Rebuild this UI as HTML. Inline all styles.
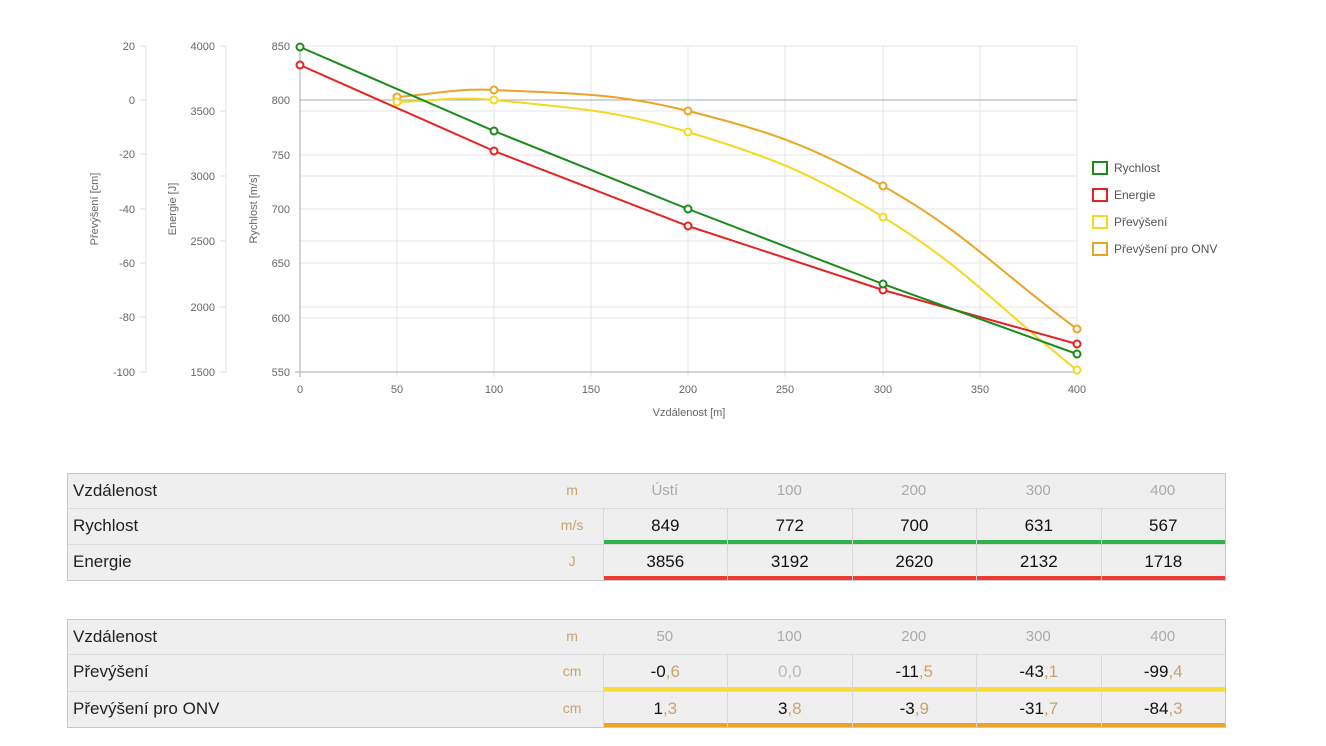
<!DOCTYPE html>
<html><head><meta charset="utf-8"><style>
body{margin:0;width:1326px;height:746px;background:#fff;font-family:"Liberation Sans",sans-serif;position:relative;overflow:hidden}
svg{position:absolute;left:0;top:0}
.tb{position:absolute;left:67px;width:1159px;border:1px solid #c8c8c8;background:#efefef;box-sizing:border-box}
.row{position:relative;display:flex;border-top:1px solid #dcdcdc;box-sizing:border-box}
.row:first-child{border-top:none}
.lab{width:474px;padding-left:5px;box-sizing:border-box;font-size:17px;color:#222;line-height:33px}
.unit{width:61px;text-align:center;font-size:14px;color:#c9a46a;line-height:33px}
.c{width:124.6px;text-align:center;font-size:17px;color:#111;line-height:33px;border-left:1px solid #d8d8d8;box-sizing:border-box;position:relative}
.h .c{color:#aaa;font-size:15px;border-left:none}
.c i{font-style:normal;color:#c9a46a}
.bar{position:absolute;left:0;right:0;bottom:0;height:4px}
</style></head><body>
<svg width="1326" height="746" font-family="Liberation Sans, sans-serif" font-size="11" fill="#666">
<g stroke="#e6e6e6" stroke-width="1">
<line x1="300" x2="1077" y1="46" y2="46"/><line x1="300" x2="1077" y1="155" y2="155"/><line x1="300" x2="1077" y1="209" y2="209"/><line x1="300" x2="1077" y1="263" y2="263"/><line x1="300" x2="1077" y1="318" y2="318"/>
<line x1="300" x2="1077" y1="111" y2="111"/><line x1="300" x2="1077" y1="176" y2="176"/><line x1="300" x2="1077" y1="241" y2="241"/><line x1="300" x2="1077" y1="307" y2="307"/>
<line x1="397" x2="397" y1="46" y2="377"/><line x1="494" x2="494" y1="46" y2="377"/><line x1="591" x2="591" y1="46" y2="377"/><line x1="688" x2="688" y1="46" y2="377"/><line x1="785" x2="785" y1="46" y2="377"/><line x1="883" x2="883" y1="46" y2="377"/><line x1="980" x2="980" y1="46" y2="377"/><line x1="1077" x2="1077" y1="46" y2="377"/>
<line x1="146" x2="146" y1="46" y2="372"/><line x1="226" x2="226" y1="46" y2="372"/>
</g>
<line x1="300" x2="1077" y1="100" y2="100" stroke="#aaa"/>
<line x1="295" x2="1077" y1="372" y2="372" stroke="#aaa"/>
<line x1="300" x2="300" y1="46" y2="377" stroke="#aaa"/>
<g text-anchor="end">
<text x="135" y="50">20</text><text x="135" y="104">0</text><text x="135" y="158">-20</text><text x="135" y="213">-40</text><text x="135" y="267">-60</text><text x="135" y="321">-80</text><text x="135" y="376">-100</text>
<text x="215" y="50">4000</text><text x="215" y="115">3500</text><text x="215" y="180">3000</text><text x="215" y="245">2500</text><text x="215" y="311">2000</text><text x="215" y="376">1500</text>
<text x="290" y="50">850</text><text x="290" y="104">800</text><text x="290" y="159">750</text><text x="290" y="213">700</text><text x="290" y="267">650</text><text x="290" y="322">600</text><text x="290" y="376">550</text>
</g>
<g stroke="#ddd"><line x1="140" x2="146" y1="46" y2="46"/><line x1="140" x2="146" y1="100" y2="100"/><line x1="140" x2="146" y1="154" y2="154"/><line x1="140" x2="146" y1="209" y2="209"/><line x1="140" x2="146" y1="263" y2="263"/><line x1="140" x2="146" y1="317" y2="317"/><line x1="140" x2="146" y1="372" y2="372"/>
<line x1="220" x2="226" y1="46" y2="46"/><line x1="220" x2="226" y1="111" y2="111"/><line x1="220" x2="226" y1="176" y2="176"/><line x1="220" x2="226" y1="241" y2="241"/><line x1="220" x2="226" y1="307" y2="307"/><line x1="220" x2="226" y1="372" y2="372"/></g>
<g text-anchor="middle">
<text x="300" y="393">0</text><text x="397" y="393">50</text><text x="494" y="393">100</text><text x="591" y="393">150</text><text x="688" y="393">200</text><text x="785" y="393">250</text><text x="883" y="393">300</text><text x="980" y="393">350</text><text x="1077" y="393">400</text>
<text x="689" y="416">Vzdálenost [m]</text>
<text transform="translate(98,209) rotate(-90)">Převýšení [cm]</text>
<text transform="translate(176,209) rotate(-90)">Energie [J]</text>
<text transform="translate(257,209) rotate(-90)">Rychlost [m/s]</text>
</g>
<path id="pO" fill="none" stroke="#eaa526" stroke-width="2"/>
<path id="pY" fill="none" stroke="#f5d820" stroke-width="2"/>
<polyline points="300,65 494,151 688,226 883,290 1077,344" fill="none" stroke="#e62222" stroke-width="2"/>
<polyline points="300,47 494,131 688,209 883,284 1077,354" fill="none" stroke="#1a8a1a" stroke-width="2"/>
<g id="pts" stroke-width="2" fill="#fff"></g>
<g font-size="12" fill="#555">
<rect x="1093" y="162" width="14" height="12" fill="#fff" stroke="#1a8a1a" stroke-width="2"/><text x="1114" y="172">Rychlost</text>
<rect x="1093" y="189" width="14" height="12" fill="#fff" stroke="#e62222" stroke-width="2"/><text x="1114" y="199">Energie</text>
<rect x="1093" y="216" width="14" height="12" fill="#fff" stroke="#f5d820" stroke-width="2"/><text x="1114" y="226">Převýšení</text>
<rect x="1093" y="243" width="14" height="12" fill="#fff" stroke="#eaa526" stroke-width="2"/><text x="1114" y="253">Převýšení pro ONV</text>
</g>
</svg>
<script>
function spline(P,t){var d='M'+P[0][0]+','+P[0][1];var cps=[];
for(var i=0;i<P.length;i++){var p0=P[i-1]||P[i],p1=P[i],p2=P[i+1]||P[i];
var d01=Math.hypot(p1[0]-p0[0],p1[1]-p0[1]),d12=Math.hypot(p2[0]-p1[0],p2[1]-p1[1]);var s=d01+d12||1;
var fa=t*d01/s,fb=t*d12/s;cps.push([[p1[0]-fa*(p2[0]-p0[0]),p1[1]-fa*(p2[1]-p0[1])],[p1[0]+fb*(p2[0]-p0[0]),p1[1]+fb*(p2[1]-p0[1])]]);}
for(var i=1;i<P.length;i++){d+=' C'+cps[i-1][1]+' '+cps[i][0]+' '+P[i];}return d;}
var Y=[[397,102],[494,100],[688,132],[883,217],[1077,370]],O=[[397,97],[494,90],[688,111],[883,186],[1077,329]];
document.getElementById('pY').setAttribute('d',spline(Y,0.4));document.getElementById('pO').setAttribute('d',spline(O,0.4));
var g=document.getElementById('pts'),h='';
function add(a,c){a.forEach(function(p){h+='<circle cx="'+p[0]+'" cy="'+p[1]+'" r="3.5" stroke="'+c+'"/>';});}
add(O,'#eaa526');add(Y,'#f5d820');add([[300,65],[494,151],[688,226],[883,290],[1077,344]],'#e62222');add([[300,47],[494,131],[688,209],[883,284],[1077,354]],'#1a8a1a');
g.innerHTML=h;
</script>
<div class="tb" style="top:473px;height:108px">
<div class="row h" style="height:34px"><div class="lab">Vzdálenost</div><div class="unit">m</div><div class="c">Ústí</div><div class="c">100</div><div class="c">200</div><div class="c">300</div><div class="c">400</div></div>
<div class="row" style="height:36px"><div class="lab">Rychlost</div><div class="unit">m/s</div><div class="c">849<div class="bar" style="background:#2db34a"></div></div><div class="c">772<div class="bar" style="background:#2db34a"></div></div><div class="c">700<div class="bar" style="background:#2db34a"></div></div><div class="c">631<div class="bar" style="background:#2db34a"></div></div><div class="c">567<div class="bar" style="background:#2db34a"></div></div></div>
<div class="row" style="height:36px"><div class="lab">Energie</div><div class="unit">J</div><div class="c">3856<div class="bar" style="background:#ee3b36"></div></div><div class="c">3192<div class="bar" style="background:#ee3b36"></div></div><div class="c">2620<div class="bar" style="background:#ee3b36"></div></div><div class="c">2132<div class="bar" style="background:#ee3b36"></div></div><div class="c">1718<div class="bar" style="background:#ee3b36"></div></div></div>
</div>
<div class="tb" style="top:619px;height:109px">
<div class="row h" style="height:34px"><div class="lab">Vzdálenost</div><div class="unit">m</div><div class="c">50</div><div class="c">100</div><div class="c">200</div><div class="c">300</div><div class="c">400</div></div>
<div class="row" style="height:37px"><div class="lab">Převýšení</div><div class="unit">cm</div><div class="c">-0<i>,6</i><div class="bar" style="background:#f7dc3a"></div></div><div class="c" style="color:#bbb">0,0<div class="bar" style="background:#f7dc3a"></div></div><div class="c">-11<i>,5</i><div class="bar" style="background:#f7dc3a"></div></div><div class="c">-43<i>,1</i><div class="bar" style="background:#f7dc3a"></div></div><div class="c">-99<i>,4</i><div class="bar" style="background:#f7dc3a"></div></div></div>
<div class="row" style="height:36px"><div class="lab">Převýšení pro ONV</div><div class="unit">cm</div><div class="c">1<i>,3</i><div class="bar" style="background:#eaa526"></div></div><div class="c">3<i>,8</i><div class="bar" style="background:#eaa526"></div></div><div class="c">-3<i>,9</i><div class="bar" style="background:#eaa526"></div></div><div class="c">-31<i>,7</i><div class="bar" style="background:#eaa526"></div></div><div class="c">-84<i>,3</i><div class="bar" style="background:#eaa526"></div></div></div>
</div>
</body></html>
